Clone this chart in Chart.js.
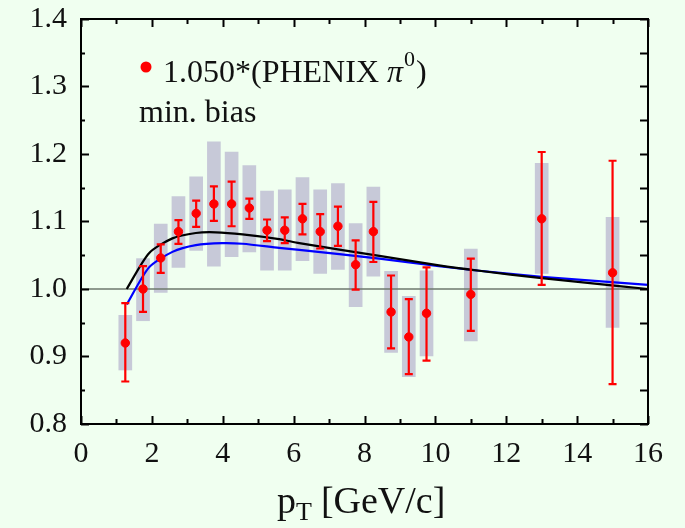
<!DOCTYPE html>
<html>
<head>
<meta charset="utf-8">
<script src="https://cdn.jsdelivr.net/npm/chart.js@4"></script>
<style>
  html, body { margin:0; padding:0; background:#f0fff0; }
  #wrap { width:685px; height:528px; }
</style>
</head>
<body>
<div id="wrap"><canvas id="c" width="685" height="528"></canvas></div>
<script>
// PHENIX pi0 ratio points (scaled by 1.050)
var ptVals   = [1.25, 1.75, 2.25, 2.75, 3.25, 3.75, 4.25, 4.75, 5.25, 5.75, 6.25, 6.75, 7.25, 7.75, 8.25, 8.75, 9.25, 9.75, 11.0, 13.0, 15.0];
var ratio    = [0.920, 1.000, 1.046, 1.085, 1.112, 1.126, 1.126, 1.120, 1.087, 1.087, 1.104, 1.085, 1.093, 1.036, 1.085, 0.966, 0.929, 0.964, 0.992, 1.104, 1.024];
var statHi   = [0.979, 1.034, 1.066, 1.102, 1.131, 1.152, 1.159, 1.134, 1.103, 1.106, 1.126, 1.111, 1.122, 1.072, 1.129, 1.020, 0.985, 1.032, 1.045, 1.203, 1.190];
var statLo   = [0.863, 0.966, 1.024, 1.067, 1.092, 1.101, 1.093, 1.104, 1.071, 1.068, 1.081, 1.060, 1.064, 0.999, 1.040, 0.912, 0.874, 0.894, 0.938, 1.006, 0.859];
var sysHi    = [0.961, 1.045, 1.096, 1.137, 1.166, 1.218, 1.203, 1.183, 1.145, 1.147, 1.165, 1.147, 1.156, 1.097, 1.151, 1.026, 0.989, 1.027, 1.059, 1.186, 1.106];
var sysLo    = [0.880, 0.953, 0.995, 1.032, 1.057, 1.034, 1.048, 1.055, 1.028, 1.028, 1.042, 1.023, 1.029, 0.974, 1.019, 0.906, 0.870, 0.901, 0.923, 1.023, 0.943];

// model curves
var blackX = [1.29, 1.92, 2.58, 3.24, 3.80, 4.56, 5.59, 6.16, 8.42, 10.1, 11.24, 13.0, 14.5, 16.0];
var blackY = [1.000, 1.053, 1.075, 1.083, 1.084, 1.081, 1.074, 1.068, 1.049, 1.035, 1.027, 1.016, 1.008, 1.000];
var blueX  = [1.29, 1.92, 2.58, 3.24, 3.99, 4.56, 5.59, 6.16, 8.42, 10.1, 11.24, 13.0, 14.5, 16.0];
var blueY  = [0.977, 1.032, 1.055, 1.065, 1.068, 1.067, 1.061, 1.058, 1.045, 1.034, 1.027, 1.018, 1.012, 1.006];

var refX = [0, 16];
var refY = [1.0, 1.0];

var xTicks = [0, 2, 4, 6, 8, 10, 12, 14, 16];
var yTicks = [0.8, 0.9, 1.0, 1.1, 1.2, 1.3, 1.4];

var legendText = "1.050*(PHENIX ";
var noteText = "min. bias";

function pts(xs, ys){ return xs.map(function(x,i){ return {x:x, y:ys[i]}; }); }

var SERIF = "'Liberation Serif', 'DejaVu Serif', serif";

var decor = {
  id: 'decor',
  beforeDraw: function(chart){
    var ctx = chart.ctx;
    ctx.save();
    ctx.fillStyle = '#f0fff0';
    ctx.fillRect(0, 0, chart.width, chart.height);
    ctx.restore();
  },
  afterDatasetsDraw: function(chart){
    var ctx = chart.ctx, xs = chart.scales.x, ys = chart.scales.y, a = chart.chartArea;
    ctx.save();
    // stat error bars
    ctx.strokeStyle = '#ff0000';
    ctx.lineWidth = 2.2;
    for (var i = 0; i < ptVals.length; i++) {
      var px = xs.getPixelForValue(ptVals[i]);
      var y1 = ys.getPixelForValue(statHi[i]);
      var y2 = ys.getPixelForValue(statLo[i]);
      ctx.beginPath();
      ctx.moveTo(px, y1); ctx.lineTo(px, y2);
      ctx.moveTo(px-4, y1); ctx.lineTo(px+4, y1);
      ctx.moveTo(px-4, y2); ctx.lineTo(px+4, y2);
      ctx.stroke();
    }
    // frame
    ctx.strokeStyle = '#000';
    ctx.lineWidth = 2;
    ctx.strokeRect(a.left, a.top, a.right - a.left, a.bottom - a.top);
    // ticks
    ctx.beginPath();
    for (var v = 0.8; v <= 1.4001; v += 0.05) {
      var py = Math.round(ys.getPixelForValue(v)) + 0.5;
      var major = Math.abs(Math.round(v*10) - v*10) < 1e-6;
      ctx.moveTo(a.left, py); ctx.lineTo(a.left + (major ? 8 : 4), py);
      ctx.moveTo(a.right, py); ctx.lineTo(a.right - 8, py);
    }
    for (var t = 0; t <= 16; t++) {
      var tx = Math.round(xs.getPixelForValue(t)) + 0.5;
      var len = (t % 2 === 0) ? 8 : 5;
      ctx.moveTo(tx, a.bottom); ctx.lineTo(tx, a.bottom - len);
      ctx.moveTo(tx, a.top); ctx.lineTo(tx, a.top + len);
    }
    ctx.stroke();

    // legend
    ctx.fillStyle = '#ff0000';
    ctx.beginPath();
    ctx.arc(146, 67, 5.5, 0, Math.PI*2);
    ctx.fill();
    ctx.fillStyle = '#111';
    ctx.textBaseline = 'alphabetic';
    ctx.textAlign = 'left';
    ctx.font = '32px ' + SERIF;
    var lx = 163, ly = 82;
    ctx.fillText(legendText, lx, ly);
    lx += ctx.measureText(legendText).width;
    ctx.font = 'italic 32px ' + SERIF;
    ctx.fillText('\u03c0', lx, ly);
    lx += ctx.measureText('\u03c0').width + 1;
    ctx.font = '22px ' + SERIF;
    ctx.fillText('0', lx, ly - 16);
    lx += ctx.measureText('0').width + 1;
    ctx.font = '32px ' + SERIF;
    ctx.fillText(')', lx, ly);
    ctx.fillText(noteText, 139, 122);

    // x axis title
    var tx0 = 277, ty0 = 513;
    ctx.font = '38px ' + SERIF;
    ctx.fillText('p', tx0, ty0);
    var w = ctx.measureText('p').width;
    ctx.font = '26px ' + SERIF;
    ctx.fillText('T', tx0 + w, ty0 + 7);
    w += ctx.measureText('T').width + 9;
    ctx.font = '38px ' + SERIF;
    ctx.fillText('[GeV/c]', tx0 + w, ty0);
    ctx.restore();
  }
};

new Chart(document.getElementById('c'), {
  data: {
    datasets: [
      { type: 'scatter', data: pts(ptVals, ratio), backgroundColor: '#ff0000', borderColor: '#ff0000',
        pointRadius: 4.2, pointHoverRadius: 4.2, order: 1 },
      { type: 'line', data: pts(blackX, blackY), borderColor: '#000000', borderWidth: 2.2,
        pointRadius: 0, tension: 0.25, fill: false, order: 2 },
      { type: 'line', data: pts(blueX, blueY), borderColor: '#0000ff', borderWidth: 2.2,
        pointRadius: 0, tension: 0.25, fill: false, order: 2 },
      { type: 'line', data: pts(refX, refY), borderColor: '#6e786e', borderWidth: 1.5,
        pointRadius: 0, fill: false, order: 3 },
      { type: 'bar', data: ptVals.map(function(x,i){ return {x:x, y:[sysLo[i], sysHi[i]]}; }),
        backgroundColor: 'rgba(196,198,214,0.95)', borderWidth: 0, barThickness: 13, order: 4 }
    ]
  },
  options: {
    responsive: false,
    animation: false,
    devicePixelRatio: 1,
    layout: { padding: { left: 0, right: 37, top: 19, bottom: 0 } },
    plugins: { legend: { display: false }, tooltip: { enabled: false } },
    scales: {
      x: {
        type: 'linear', min: 0, max: 16, offset: false,
        grid: { display: false, drawTicks: false },
        border: { display: false },
        afterBuildTicks: function(s){ s.ticks = xTicks.map(function(v){ return {value:v}; }); },
        ticks: { color: '#111', padding: 12, maxRotation: 0, font: { family: SERIF, size: 30 },
                 callback: function(v){ return String(v); } },
        afterFit: function(s){ s.height = 104; s.paddingLeft = 0; s.paddingRight = 0; }
      },
      y: {
        type: 'linear', min: 0.8, max: 1.4,
        grid: { display: false, drawTicks: false },
        border: { display: false },
        afterBuildTicks: function(s){ s.ticks = yTicks.map(function(v){ return {value:v}; }); },
        ticks: { color: '#111', padding: 14, font: { family: SERIF, size: 30 },
                 callback: function(v){ return Number(v).toFixed(1); } },
        afterFit: function(s){ s.width = 81; s.paddingTop = 0; s.paddingBottom = 0; }
      }
    }
  },
  plugins: [decor]
});
</script>
</body>
</html>
